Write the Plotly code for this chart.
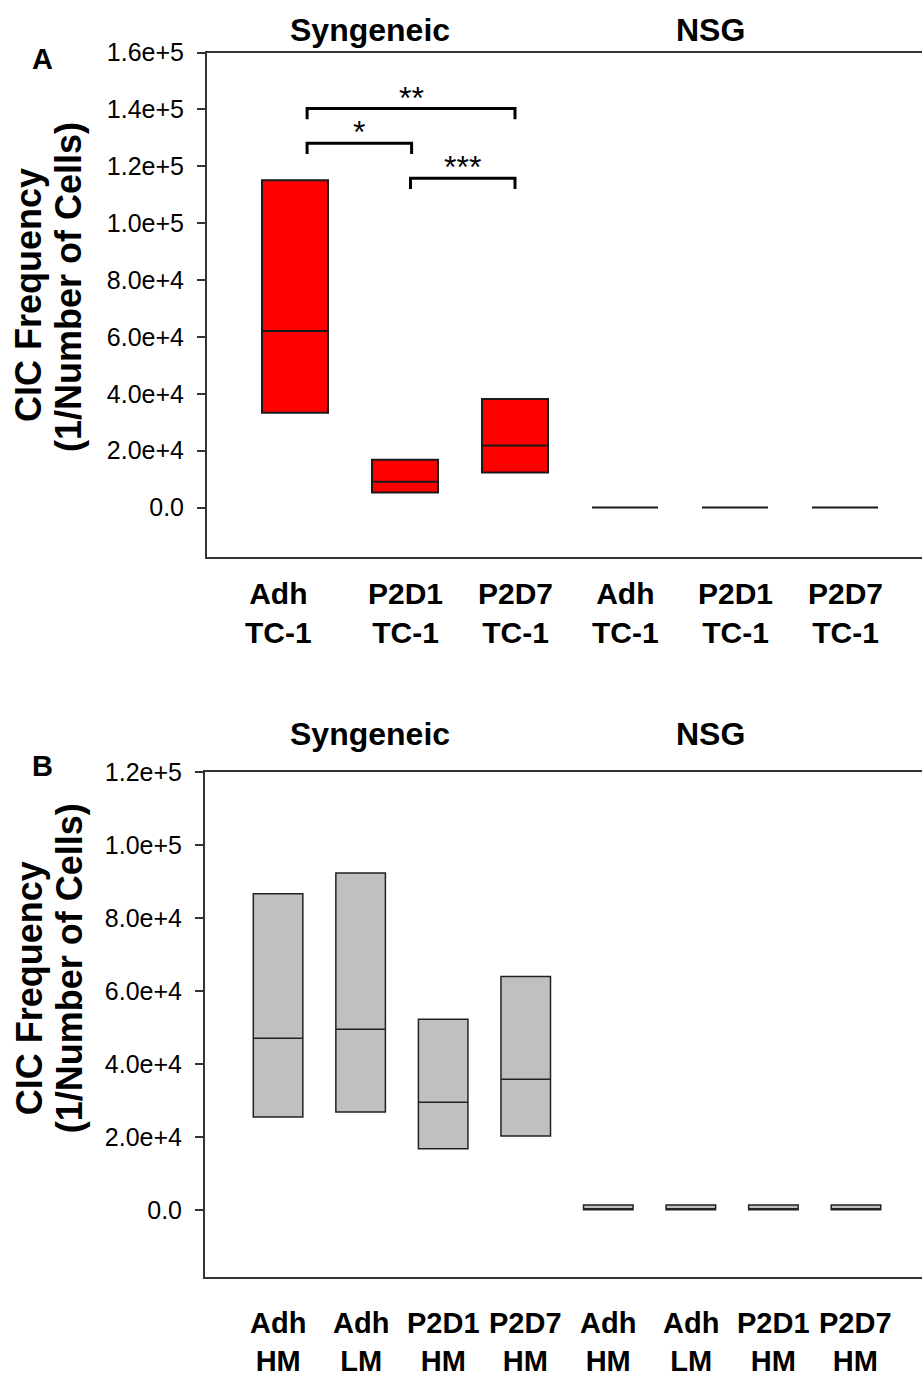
import plotly.graph_objects as go

# ---------------- data ----------------
# Panel A
a_labels = ["Adh<br>TC-1", "P2D1<br>TC-1", "P2D7<br>TC-1", "Adh<br>TC-1", "P2D1<br>TC-1", "P2D7<br>TC-1"]
a_q1 = [33300, 5300, 12300, 0, 0, 0]
a_median = [62100, 9100, 21800, 0, 0, 0]
a_q3 = [115100, 16800, 38200, 0, 0, 0]

# Panel B
b_labels = ["Adh<br>HM", "Adh<br>LM", "P2D1<br>HM", "P2D7<br>HM", "Adh<br>HM", "Adh<br>LM", "P2D1<br>HM", "P2D7<br>HM"]
b_q1 = [25400, 26800, 16700, 20200, 0, 0, 0, 0]
b_median = [47000, 49500, 29500, 35800, 0, 0, 0, 0]
b_q3 = [86600, 92300, 52200, 63900, 1300, 1300, 1300, 1300]

a_ticks = [0, 20000, 40000, 60000, 80000, 100000, 120000, 140000, 160000]
a_ticktext = ["0.0", "2.0e+4", "4.0e+4", "6.0e+4", "8.0e+4", "1.0e+5", "1.2e+5", "1.4e+5", "1.6e+5"]
b_ticks = [0, 20000, 40000, 60000, 80000, 100000, 120000]
b_ticktext = ["0.0", "2.0e+4", "4.0e+4", "6.0e+4", "8.0e+4", "1.0e+5", "1.2e+5"]

# significance brackets (panel A): (x_start, x_end, y, label)
brackets = [(0.11, 2.0, 140300, "**"), (0.11, 1.06, 128100, "*"), (1.05, 2.0, 115800, "***")]

FONT = "Arial, Liberation Sans, sans-serif"
W, H = 922, 1380


def fy(t):
    """pixel row (from top) -> paper y, with a small empirical correction"""
    return 1 - ((t - 11.4) / 0.9922) / H


fig = go.Figure()

a_x = list(range(len(a_labels)))
b_x = list(range(len(b_labels)))

fig.add_trace(go.Box(
    x=a_x, q1=a_q1, median=a_median, q3=a_q3,
    lowerfence=a_q1, upperfence=a_q3,
    width=0.6, whiskerwidth=0,
    fillcolor="#ff0000", line=dict(color="#1a1a1a", width=2),
    boxpoints=False, hoverinfo="skip", showlegend=False,
    xaxis="x", yaxis="y"))

fig.add_trace(go.Box(
    x=b_x, q1=b_q1, median=b_median, q3=b_q3,
    lowerfence=b_q1, upperfence=b_q3,
    width=0.6, whiskerwidth=0,
    fillcolor="#c0c0c0", line=dict(color="#222222", width=1.5),
    boxpoints=False, hoverinfo="skip", showlegend=False,
    xaxis="x2", yaxis="y2"))

# brackets
tick_drop = 3800
for x0, x1, y, lab in brackets:
    fig.add_trace(go.Scatter(
        x=[x0, x0, x1, x1], y=[y - tick_drop, y, y, y - tick_drop],
        mode="lines", line=dict(color="black", width=3),
        hoverinfo="skip", showlegend=False, xaxis="x", yaxis="y"))
    fig.add_annotation(x=(x0 + x1) / 2, y=y, xref="x", yref="y",
                       text=lab, showarrow=False, yanchor="bottom", yshift=-9,
                       font=dict(family=FONT, size=32, color="black"))

axcol = "#333333"
tickfont = dict(family=FONT, size=25, color="black")
CATSIZE = 30

fig.update_layout(
    width=W, height=H, margin=dict(l=0, r=0, t=0, b=0),
    paper_bgcolor="white", plot_bgcolor="white",
    xaxis=dict(domain=[207 / W, 1.0], range=[-0.8, 5.7],
               tickvals=a_x, showticklabels=False,
               showline=True, mirror=True, linecolor=axcol, linewidth=2,
               showgrid=False, zeroline=False, ticks="", anchor="y"),
    yaxis=dict(domain=[fy(556), fy(50)], range=[-17500, 160000],
               tickvals=a_ticks, ticktext=a_ticktext, tickfont=tickfont,
               showline=True, linecolor=axcol, linewidth=2,
               ticks="outside", ticklen=8, tickwidth=2, tickcolor=axcol,
               ticklabelstandoff=8,
               showgrid=False, zeroline=False, anchor="x"),
    xaxis2=dict(domain=[205 / W, 1.0], range=[-0.885, 7.8],
                tickvals=b_x, showticklabels=False,
                showline=True, mirror=True, linecolor=axcol, linewidth=2,
                showgrid=False, zeroline=False, ticks="", anchor="y2"),
    yaxis2=dict(domain=[fy(1277), fy(771)], range=[-18300, 120000],
                tickvals=b_ticks, ticktext=b_ticktext, tickfont=tickfont,
                showline=True, linecolor=axcol, linewidth=2,
                ticks="outside", ticklen=8, tickwidth=2, tickcolor=axcol,
                ticklabelstandoff=8,
                showgrid=False, zeroline=False, anchor="x2"),
)

# category labels (bold, two lines)
for i, lab in enumerate(a_labels):
    fig.add_annotation(x=i, y=fy(612), xref="x", yref="paper",
                       text="<b>" + lab.replace("<br>", "</b><br><b>") + "</b>",
                       showarrow=False, xanchor="center", yanchor="middle",
                       xshift=-17 if i == 0 else 0,
                       font=dict(family=FONT, size=CATSIZE, color="black"))
for i, lab in enumerate(b_labels):
    fig.add_annotation(x=i, y=fy(1343), xref="x2", yref="paper",
                       text="<b>" + lab.replace("<br>", "</b><br><b>") + "</b>",
                       showarrow=False, xanchor="center", yanchor="middle",
                       font=dict(family=FONT, size=29, color="black"))


def ann(x, y, text, size, angle=0):
    fig.add_annotation(x=x / W, y=fy(y), xref="paper", yref="paper",
                       text=text, showarrow=False, textangle=angle,
                       xanchor="center", yanchor="middle",
                       font=dict(family=FONT, size=size, color="black"))


# group headers
ann(370, 27, "<b>Syngeneic</b>", 32)
ann(710, 27, "<b>NSG</b>", 32)
ann(370, 733, "<b>Syngeneic</b>", 32)
ann(710, 733, "<b>NSG</b>", 32)
# panel letters
ann(42, 57, "<b>A</b>", 29)
ann(42, 765, "<b>B</b>", 29)
# y titles
ann(29, 293, "<b>CIC Frequency</b>", 36, -90)
ann(69, 285, "<b>(1/Number of Cells)</b>", 36, -90)
ann(29, 988, "<b>CIC Frequency</b>", 36, -90)
ann(69, 968, "<b>(1/Number of Cells)</b>", 36, -90)

fig.write_html("out.html")
